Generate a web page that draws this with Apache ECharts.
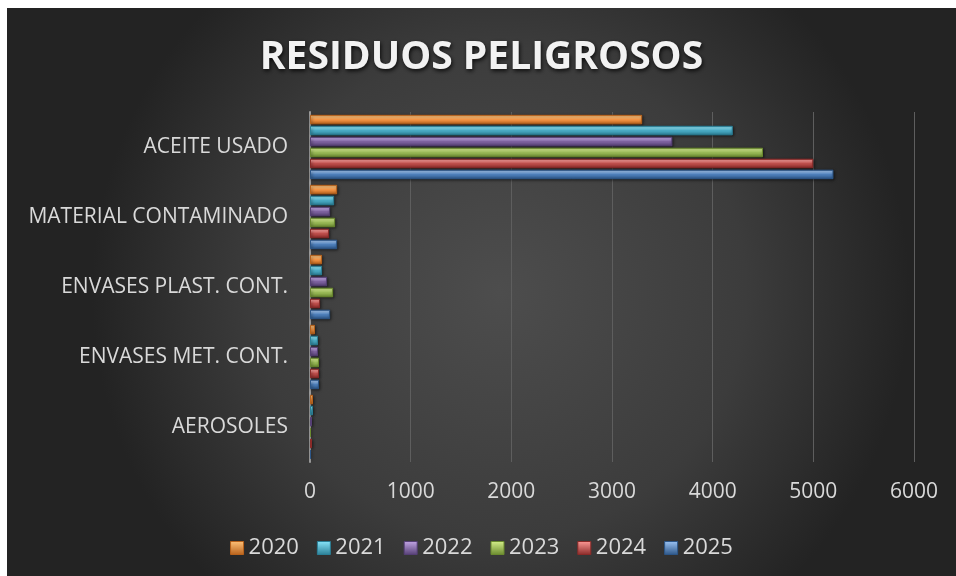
<!DOCTYPE html>
<html>
<head>
<meta charset="utf-8">
<script src="https://cdn.jsdelivr.net/npm/echarts@6/dist/echarts.min.js"></script>
<style>
  html, body { margin: 0; padding: 0; background: #fff; }
  #chart { position: absolute; left: 7px; top: 8px; width: 949px; height: 568px; }
</style>
</head>
<body>
<div id="chart"></div>
<script>
// categorias (de abajo hacia arriba, como en Excel)
var categories = ['AEROSOLES', 'ENVASES MET. CONT.', 'ENVASES PLAST. CONT.', 'MATERIAL CONTAMINADO', 'ACEITE USADO'];
var years = ['2020', '2021', '2022', '2023', '2024', '2025'];

var v2020 = [30, 50, 120, 270, 3300];
var v2021 = [30, 80, 120, 240, 4200];
var v2022 = [20, 80, 170, 200, 3600];
var v2023 = [10, 90, 230, 250, 4500];
var v2024 = [20, 90, 100, 190, 5000];
var v2025 = [10, 90, 200, 270, 5200];

var xTicks = [0, 1000, 2000, 3000, 4000, 5000, 6000];

// colores: claro, base, oscuro
var palette = {
    '2020': ['#ffc27a', '#f79646', '#b8621b'],
    '2021': ['#8ae6fb', '#4bacc6', '#2a7f96'],
    '2022': ['#c3a6e6', '#8064a2', '#553f75'],
    '2023': ['#d6f08c', '#9bbb59', '#6a8a2e'],
    '2024': ['#ff9a97', '#c0504d', '#8a2a28'],
    '2025': ['#9cc4f5', '#4f81bd', '#2c5688']
};

var allValues = [v2020, v2021, v2022, v2023, v2024, v2025];

function mkBar(name, data) {
    var c = palette[name];
    return {
        name: name,
        type: 'bar',
        data: data,
        barCategoryGap: '8%',
        barGap: '15%',
        itemStyle: {
            color: new echarts.graphic.LinearGradient(0, 0, 0, 1, [
                { offset: 0, color: c[1] },
                { offset: 0.2, color: c[0] },
                { offset: 0.5, color: c[1] },
                { offset: 1, color: c[2] }
            ]),
            borderColor: c[2],
            borderWidth: 1,
            shadowColor: 'rgba(0,0,0,0.55)',
            shadowBlur: 3,
            shadowOffsetX: 1,
            shadowOffsetY: 1
        }
    };
}

// la primera serie queda arriba del grupo (2020 arriba, como en el original)
var series = [];
for (var i = 0; i < years.length; i++) {
    series.push(mkBar(years[i], allValues[i]));
}

var chart = echarts.init(document.getElementById('chart'));
var labelColor = '#d9d9d9';
var font = '"Open Sans", "DejaVu Sans", sans-serif';

var legendData = years.map(function (y) {
    return {
        name: y,
        itemStyle: {
            color: new echarts.graphic.LinearGradient(0, 0, 0, 1, [
                { offset: 0, color: palette[y][0] },
                { offset: 1, color: palette[y][2] }
            ]),
            borderColor: palette[y][2],
            borderWidth: 1
        }
    };
});

var option = {
    backgroundColor: new echarts.graphic.RadialGradient(0.52, 0.5, 0.72, [
        { offset: 0, color: '#4d4d4d' },
        { offset: 0.6, color: '#3c3c3c' },
        { offset: 1, color: '#232323' }
    ]),
    animation: false,
    title: {
        text: 'RESIDUOS PELIGROSOS',
        left: 'center',
        top: 25,
        textStyle: {
            color: '#f2f2f2',
            fontSize: 39,
            fontWeight: 'bold',
            fontFamily: font,
            textShadowColor: 'rgba(0,0,0,0.8)',
            textShadowBlur: 4,
            textShadowOffsetX: 1,
            textShadowOffsetY: 2
        }
    },
    legend: {
        data: legendData,
        bottom: 12,
        left: 'center',
        itemWidth: 13,
        itemHeight: 13,
        itemGap: 18,
        icon: 'rect',
        textStyle: { color: labelColor, fontSize: 22, fontFamily: font }
    },
    grid: {
        left: 303,
        right: 42,
        top: 104,
        bottom: 114,
        containLabel: false
    },
    xAxis: {
        type: 'value',
        min: xTicks[0],
        max: xTicks[xTicks.length - 1],
        interval: 1000,
        axisLine: { show: false },
        axisTick: { show: false },
        axisLabel: {
            color: labelColor, fontSize: 21, fontFamily: font, margin: 20,
            formatter: function (v) { return String(v); }
        },
        splitLine: { show: true, lineStyle: { color: '#5e5e5e', width: 1 } }
    },
    yAxis: {
        type: 'category',
        data: categories,
        axisLine: { show: true, lineStyle: { color: '#9a9a9a', width: 2 } },
        axisTick: { show: false },
        axisLabel: {
            color: labelColor, fontSize: 21, fontFamily: font, margin: 22,
            padding: [6, 0, 0, 0]
        }
    },
    series: series
};

chart.setOption(option);
</script>
</body>
</html>
